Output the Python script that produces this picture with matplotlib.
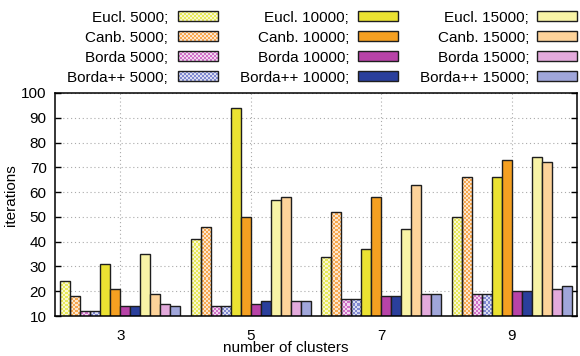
import numpy as np
import matplotlib
matplotlib.use("Agg")
import matplotlib.pyplot as plt
from matplotlib.patches import Rectangle

plt.rcParams['font.family'] = ['Liberation Sans', 'DejaVu Sans']
plt.rcParams['font.size'] = 11

# ---- data -------------------------------------------------------------
clusters = [3, 5, 7, 9]

eucl_5000 = [24, 41, 34, 50]
canb_5000 = [18, 46, 52, 66]
borda_5000 = [12, 14, 17, 19]
bordapp_5000 = [12, 14, 17, 19]

eucl_10000 = [31, 94, 37, 66]
canb_10000 = [21, 50, 58, 73]
borda_10000 = [14, 15, 18, 20]
bordapp_10000 = [14, 16, 18, 20]

eucl_15000 = [35, 57, 45, 74]
canb_15000 = [19, 58, 63, 72]
borda_15000 = [15, 16, 19, 21]
bordapp_15000 = [14, 16, 19, 22]

labels = ["Eucl. 5000;", "Canb. 5000;", "Borda 5000;", "Borda++ 5000;",
          "Eucl. 10000;", "Canb. 10000;", "Borda 10000;", "Borda++ 10000;",
          "Eucl. 15000;", "Canb. 15000;", "Borda 15000;", "Borda++ 15000;"]
series = [eucl_5000, canb_5000, borda_5000, bordapp_5000,
          eucl_10000, canb_10000, borda_10000, bordapp_10000,
          eucl_15000, canb_15000, borda_15000, bordapp_15000]

yticks = list(range(10, 101, 10))

# ---- styles ----------------------------------------------------------
checker_colors = ['#e8e85a', '#f7a850', '#d070c8', '#8089d0']
solid_colors = ['#ebe232', '#f5a021', '#b843a8', '#2a3f9c',
                '#f8f3a6', '#fdd39a', '#e3aadc', '#a0a6da']
colors = checker_colors + solid_colors
checkered = [True] * 4 + [False] * 8
edge = '#1e1e1e'

W, H = 580, 356
fig = plt.figure(figsize=(W / 100, H / 100), dpi=100)
ax_l, ax_r, ax_t, ax_b = 55, 577, 93, 316
ax = fig.add_axes([ax_l / W, 1 - ax_b / H, (ax_r - ax_l) / W, (ax_b - ax_t) / H])

XMIN, XMAX, YMIN, YMAX = 2, 10, 10, 100


def checker(rows, cols, color, tint=0.28):
    rgb = np.array(matplotlib.colors.to_rgb(color))
    light = 1 - tint * (1 - rgb)
    img = np.empty((rows, cols, 3))
    img[:] = light
    mask = (np.add.outer(np.arange(rows), np.arange(cols)) % 2) == 0
    img[mask] = rgb
    return img


# full-axes checker textures, 2px cells
n_cols = (ax_r - ax_l) // 2
n_rows = (ax_b - ax_t) // 2
textures = [checker(n_rows, n_cols, c) for c in checker_colors]

bw = 2 / 13
n = len(series)
for i, (vals, col, chk) in enumerate(zip(series, colors, checkered)):
    xs = np.array(clusters) + (i - (n - 1) / 2) * bw
    if chk:
        bars = ax.bar(xs, vals, width=bw, color='white', edgecolor='none', zorder=2)
        for rect in bars:
            im = ax.imshow(textures[i], extent=(XMIN, XMAX, YMIN, YMAX),
                           aspect='auto', interpolation='nearest', zorder=2.5)
            im.set_clip_path(rect)
        ax.bar(xs, vals, width=bw, fill=False, edgecolor=edge, linewidth=1.0, zorder=3)
    else:
        ax.bar(xs, vals, width=bw, color=col, edgecolor=edge, linewidth=1.0, zorder=3)

ax.set_xlim(XMIN, XMAX)
ax.set_ylim(YMIN, YMAX)
ax.set_xticks(clusters)
ax.set_yticks(yticks)
ax.tick_params(axis='x', length=0, pad=9)
ax.tick_params(axis='y', direction='in', length=4, width=1, left=True, right=True, pad=6)
ax.grid(True, color='#aaaaaa', linestyle=(0, (1, 2.5)), linewidth=0.8)
ax.set_axisbelow(True)
for s in ax.spines.values():
    s.set_linewidth(1.1)
    s.set_zorder(5)

ax.set_ylabel('iterations')
ax.yaxis.set_label_coords(-0.07, 0.54)
ax.set_xlabel('number of clusters')
ax.xaxis.set_label_coords(0.442, -0.112)

# ---- legend (text on the left of each swatch) -------------------------
ov = fig.add_axes([0, 0, 1, 1], zorder=10)
ov.set_xlim(0, W)
ov.set_ylim(H, 0)
ov.axis('off')

text_right = [168, 349, 529]
sw_left = [178, 358, 537]
sw_w, sw_h = 40, 10
row_y = [16, 36, 56, 76]
for i, lab in enumerate(labels):
    c, r = divmod(i, 4)
    y = row_y[r]
    ov.text(text_right[c], y, lab, ha='right', va='center_baseline', fontsize=11)
    x0 = sw_left[c]
    if checkered[i]:
        img = checker(sw_h // 2, sw_w // 2, colors[i])
        ov.imshow(img, extent=(x0, x0 + sw_w, y + sw_h / 2, y - sw_h / 2),
                  aspect='auto', interpolation='nearest', zorder=1)
        ov.add_patch(Rectangle((x0, y - sw_h / 2), sw_w, sw_h, fill=False,
                               edgecolor=edge, linewidth=1.0, zorder=2))
    else:
        ov.add_patch(Rectangle((x0, y - sw_h / 2), sw_w, sw_h, facecolor=colors[i],
                               edgecolor=edge, linewidth=1.0, zorder=2))
ov.set_xlim(0, W)
ov.set_ylim(H, 0)

fig.savefig('out.png', dpi=100)
